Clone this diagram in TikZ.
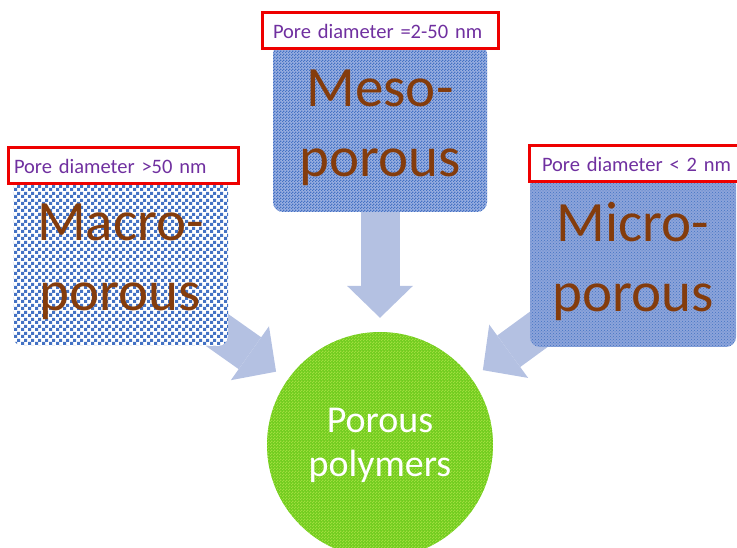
\documentclass[tikz,border=0pt]{standalone}
\usepackage{fontspec}
\setmainfont{Carlito}
\usepackage{tikz}
\usetikzlibrary{arrows.meta,backgrounds,patterns}

\definecolor{poreBlue}{RGB}{68,114,196}
\definecolor{mesoBack}{RGB}{152,174,224}
\definecolor{microBack}{RGB}{140,164,218}
\definecolor{poreBrown}{RGB}{132,60,12}
\definecolor{poreViolet}{RGB}{112,48,160}
\definecolor{poreRed}{RGB}{238,0,0}
\definecolor{arrowBlue}{RGB}{180,193,226}
\definecolor{polyGreen}{RGB}{112,204,30}
\definecolor{polyLight}{RGB}{160,222,62}

% coarse checker for the macro box
\pgfdeclarepatternformonly{bigchecker}{\pgfpointorigin}{\pgfqpoint{7pt}{7pt}}{\pgfqpoint{7pt}{7pt}}{%
  \pgfpathrectangle{\pgfpointorigin}{\pgfqpoint{3.5pt}{3.5pt}}%
  \pgfpathrectangle{\pgfqpoint{3.5pt}{3.5pt}}{\pgfqpoint{3.5pt}{3.5pt}}%
  \pgfusepath{fill}}
% fine checker for the meso box and the circle
\pgfdeclarepatternformonly{finechecker}{\pgfpointorigin}{\pgfqpoint{3pt}{3pt}}{\pgfqpoint{3pt}{3pt}}{%
  \pgfpathrectangle{\pgfpointorigin}{\pgfqpoint{1.5pt}{1.5pt}}%
  \pgfpathrectangle{\pgfqpoint{1.5pt}{1.5pt}}{\pgfqpoint{1.5pt}{1.5pt}}%
  \pgfusepath{fill}}

\begin{document}
\begin{tikzpicture}[x=1pt, y=-1pt,
      poreBox/.style={
        rounded corners=10pt, align=center, text=poreBrown,
        font=\fontsize{57}{70}\selectfont, inner sep=0pt
      },
      poreLabel/.style={
        draw=poreRed, line width=3pt, fill=white, text=poreViolet,
        font=\fontsize{20.5}{25}\selectfont, align=left,
        minimum height=36pt, inner ysep=0pt, outer sep=0pt, anchor=north west
      },
      polyCircle/.style={
        circle, minimum size=226pt, inner sep=0pt, align=center, text=white,
        font=\fontsize{38}{44}\selectfont,
        preaction={fill=polyGreen}, pattern=finechecker, pattern color=polyLight
      },
      poreArrow/.style={
        draw=arrowBlue, line width=39pt,
        -{Triangle[length=32pt 0, width=66pt 0, line width=0pt 0]},
        shorten >=14pt, shorten <=-25pt
      }
    ]
      \useasboundingbox (0,0) rectangle (737,548);

      % ---------- Boxes ----------
      \node[poreBox, minimum width=215pt, minimum height=168pt,
            preaction={fill=white}, pattern=bigchecker, pattern color=poreBlue]
            (macro) at (120.5,262) {Macro-\\porous};
      \node[poreBox, minimum width=214pt, minimum height=168pt,
            preaction={fill=mesoBack}, pattern=finechecker, pattern color=poreBlue]
            (meso) at (380,128) {Meso-\\porous};
      \node[poreBox, minimum width=206pt, minimum height=172pt,
            preaction={fill=microBack}, pattern=crosshatch dots, pattern color=poreBlue]
            (micro) at (633,261) {Micro-\\porous};

      % ---------- Centre ----------
      \node[polyCircle] (poly) at (380,445) {Porous\\polymers};

      % ---------- Pore sizes ----------
      \node[poreLabel, inner xsep=6pt, text width=218pt] (macroLbl) at (8,148) {Pore diameter >50 nm};
      \node[poreLabel, inner xsep=11pt, text width=214pt] (mesoLbl) at (262,13) {Pore diameter =2-50 nm};
      \node[poreLabel, inner xsep=13pt, text width=205pt] (microLbl) at (529,146) {Pore diameter < 2 nm};

      % ---------- Arrows ----------
      \begin{scope}[on background layer]
        \draw[poreArrow] (macro) -- (poly);
        \draw[poreArrow] (meso) -- (poly);
        \draw[poreArrow] (micro) -- (poly);
      \end{scope}

    \end{tikzpicture}
\end{document}
